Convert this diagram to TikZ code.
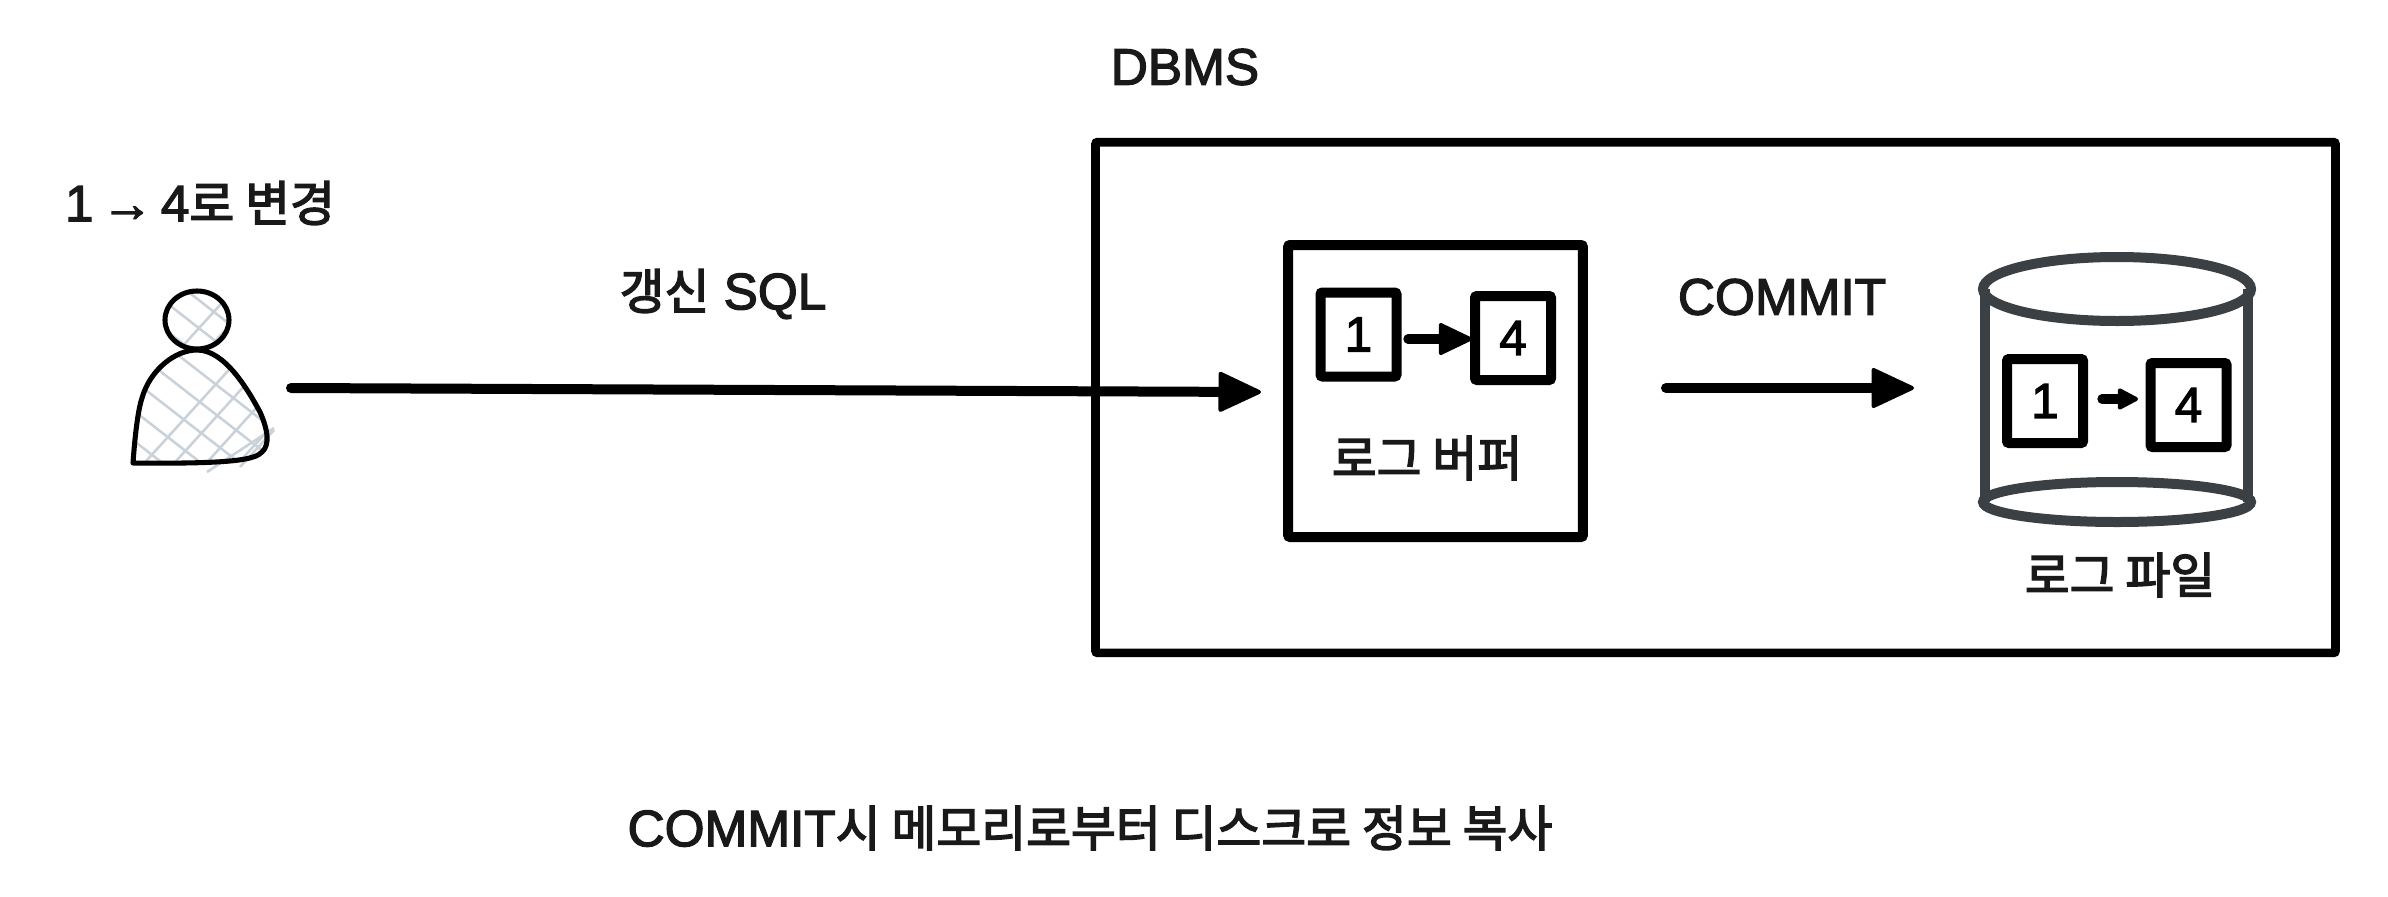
\documentclass[tikz,border=0pt]{standalone}
\usepackage{fontspec}
\setmainfont[FakeBold=2.5]{Liberation Sans}
\newfontfamily\kr[FakeBold=3,Scale=0.95]{Noto Sans CJK KR}
\usetikzlibrary{arrows.meta}
\definecolor{cylgray}{rgb}{0.23, 0.25, 0.27}
\definecolor{hatchgray}{rgb}{0.79, 0.82, 0.85}
\tikzset{
	label text/.style={font=\fontsize{38.5}{40}\selectfont,text=black!90,inner sep=0pt},
	box line/.style={draw=black,line width=7.5pt,rounded corners=1.5pt},
	num box/.style={box line,minimum width=57pt,minimum height=63pt,inner sep=0pt,font=\fontsize{37}{40}\selectfont},
	big arrow/.style={line width=7.5pt,line cap=round,-{Triangle[length=34pt,width=31pt,line width=3pt,round]}},
	small arrow/.style={line width=7pt,line cap=round,-{Triangle[length=27pt,width=25pt,line width=3pt,round]}},
	cyl line/.style={draw=cylgray,line width=7.5pt},
	hatch line/.style={draw=hatchgray,line width=1.9pt}
}
\begin{document}
\begin{tikzpicture}[x=0.75pt,y=0.75pt,yscale=-1,xscale=1]
		\useasboundingbox (0,0) rectangle (2388,896);
		
		%Shape: hatch of the user
		\begin{scope}
			\clip (197,320) ellipse [x radius=32,y radius=29];
			\foreach \hx in {170,198,226,254} \draw [hatch line] (\hx,360) -- (\hx+70,283);
			\foreach \hy in {262,290,318} \draw [hatch line] (150,\hy) -- (250,\hy+78);
		\end{scope}
		\begin{scope}
			\clip (133,463) .. controls (135,435) and (138,410) .. (142,398) .. controls (150,370) and (175,350) .. (197,350) .. controls (225,350) and (248,390) .. (260,412) .. controls (268,430) and (270,445) .. (262,452) .. controls (255,460) and (230,464) .. (133,463) -- cycle;
			\foreach \hx in {138,168,200,232,262,292} \draw [hatch line] (\hx,470) -- (\hx+118,340);
			\foreach \hy in {250,280,310,340,370,400,430} \draw [hatch line] (120,\hy) -- (290,\hy+132);
		\end{scope}
		\draw [hatch line] (207,472) -- (274,428);
		\draw [hatch line] (240,467) -- (274,430);
		
		%Shape: user
		\draw [black,line width=3.8pt] (197,320) ellipse [x radius=32,y radius=29];
		\draw [black,line width=3.8pt,line join=round] (133,463) .. controls (135,435) and (138,410) .. (142,398) .. controls (150,370) and (175,350) .. (197,350) .. controls (225,350) and (248,390) .. (260,412) .. controls (268,430) and (270,445) .. (262,452) .. controls (255,460) and (230,464) .. (133,463) -- cycle;
		\coordinate (userhand) at (291,388);
		
		%Shape: DBMS box
		\node [box line,line width=6.5pt,minimum width=930pt,minimum height=383pt] (dbmsbox) at (1715.5,397.5) {};
		
		%Shape: log buffer
		\node [box line,minimum width=221pt,minimum height=219pt] (logbuffer) at (1435.5,391) {};
		\node [num box] (bufferone) at (1358.5,334.5) {1};
		\node [num box] (bufferfour) at (1513,338) {4};
		\coordinate (bufferstart) at (1408,339);
		\coordinate (bufferend) at (1472,339);
		\draw [small arrow] (bufferstart) -- (bufferend);
		
		%Shape: log file
		\draw [cyl line] (1985,289) -- (1985,502) (2248,289) -- (2248,502);
		\draw [cyl line] (2117,289) ellipse [x radius=134,y radius=32];
		\draw [cyl line] (2117,502) ellipse [x radius=134,y radius=20];
		\node [num box] (fileone) at (2045,401) {1};
		\node [num box] (filefour) at (2188.5,405) {4};
		\coordinate (filestart) at (2102,399);
		\coordinate (fileend) at (2138,399);
		\draw [line width=7pt,line cap=round,-{Triangle[length=17pt,width=17pt,line width=3pt,round]}] (filestart) -- (fileend);
		
		%Straight Lines
		\coordinate (updateend) at (1261,392);
		\draw [big arrow] (userhand) -- (updateend);
		\coordinate (commitstart) at (1666,388);
		\coordinate (commitend) at (1914,388);
		\draw [big arrow] (commitstart) -- (commitend);
		
		% Text Node
		\node [label text] (dbmslabel) at (1185,67) {DBMS};
		% Text Node
		\node [label text] (userlabel) at (200,203) {1\hspace{6pt}→\hspace{6pt}4{\kr 로 변경}};
		% Text Node
		\node [label text] (updatelabel) at (723,294) {{\kr 갱신} SQL};
		% Text Node
		\node [label text] (commitlabel) at (1782,297) {COMMIT};
		% Text Node
		\node [label text] (bufferlabel) at (1427,458) {\kr 로그 버퍼};
		% Text Node
		\node [label text] (filelabel) at (2120,575) {\kr 로그 파일};
		% Text Node
		\node [label text] (bottomlabel) at (1090,828) {COMMIT{\kr 시 메모리로부터 디스크로 정보 복사}};
		
\end{tikzpicture}
\end{document}
